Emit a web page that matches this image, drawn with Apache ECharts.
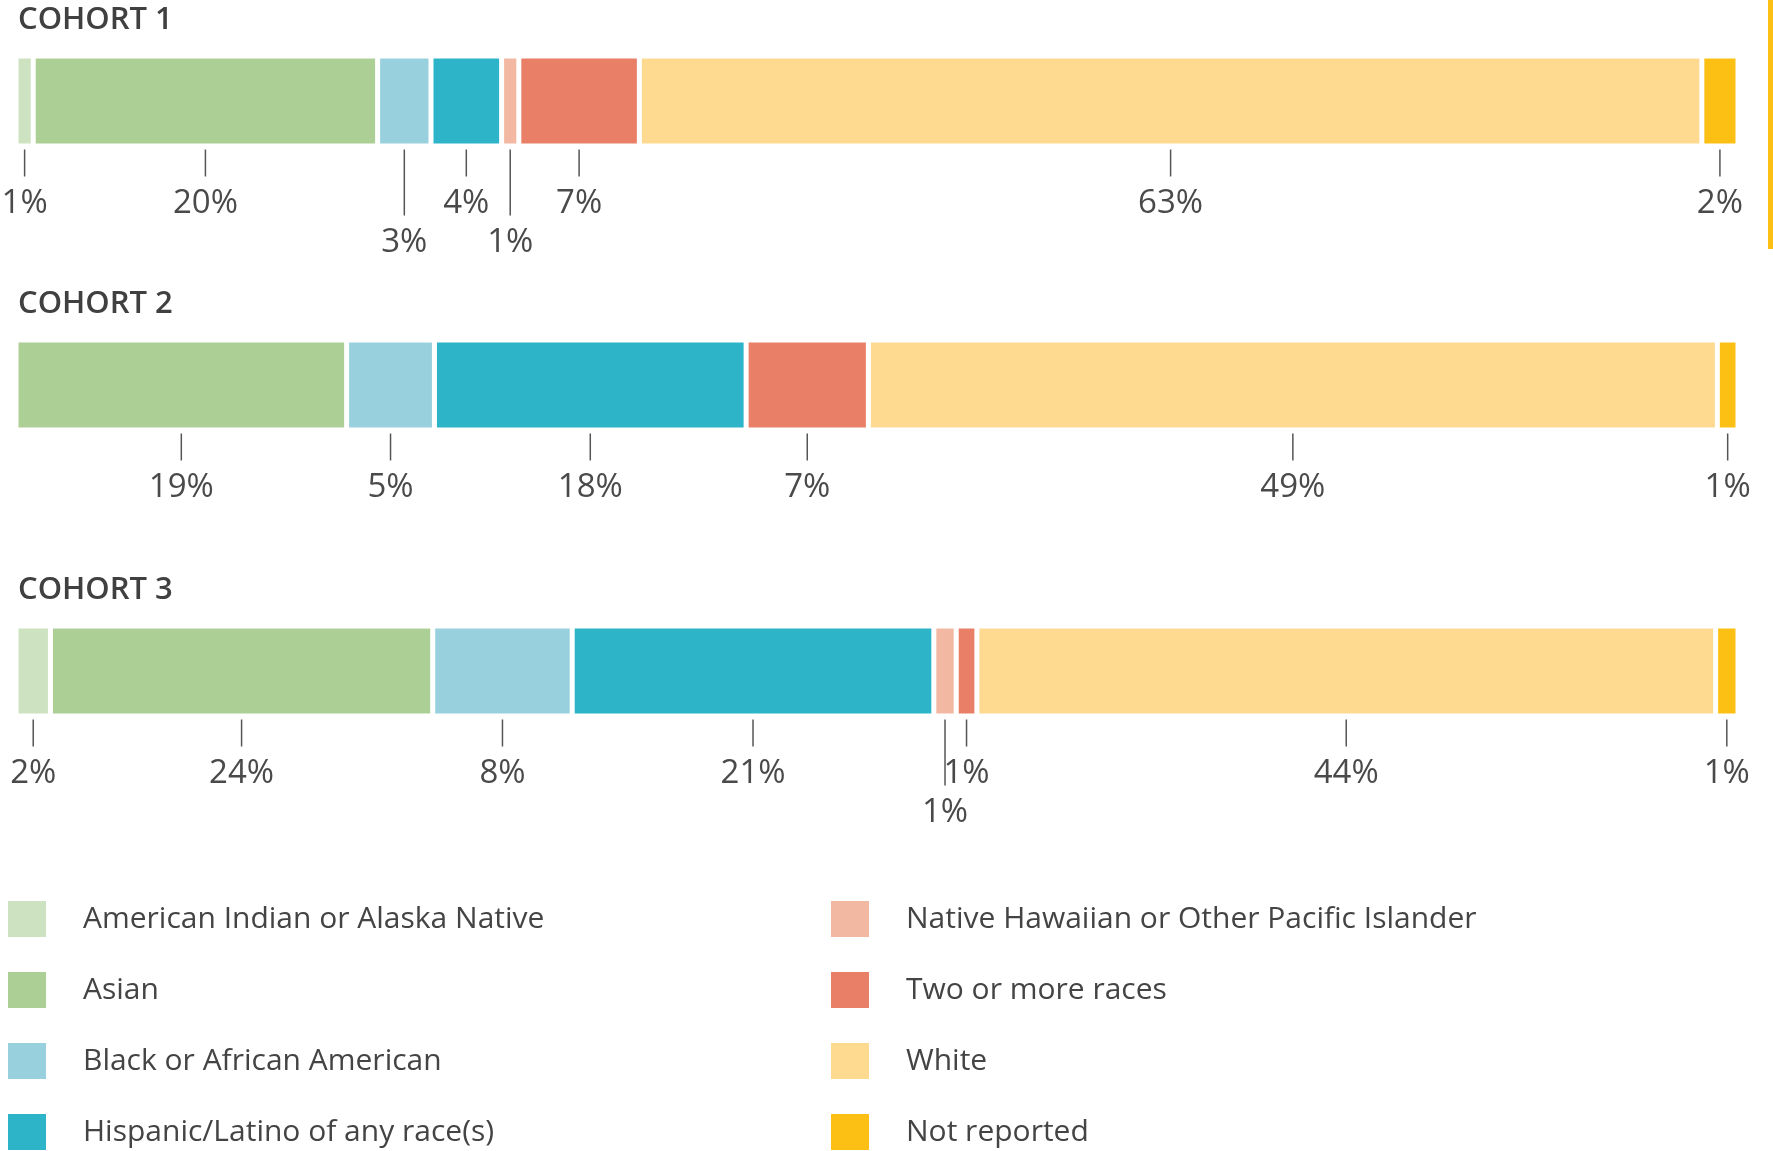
<!DOCTYPE html>
<html>
<head>
<meta charset="utf-8">
<title>Cohorts by race / ethnicity</title>
<script src="https://cdn.jsdelivr.net/npm/echarts@6/dist/echarts.min.js"></script>
<style>
  html, body { margin: 0; padding: 0; background: #fff; }
  #chart { width: 1773px; height: 1151px; }
</style>
</head>
<body>
<div id="chart"></div>
<script>
// categories (legend order = stacking order)
const races = [
  'American Indian or Alaska Native',
  'Asian',
  'Black or African American',
  'Hispanic/Latino of any race(s)',
  'Native Hawaiian or Other Pacific Islander',
  'Two or more races',
  'White',
  'Not reported'
];
const cohorts = ['COHORT 1', 'COHORT 2', 'COHORT 3'];

// share of the bar length each segment takes
const cohort1Share = [1.0, 20.0, 3.1, 4.1, 1.0, 7.0, 61.7, 2.1];
const cohort2Share = [null, 19.2, 5.1, 18.1, null, 7.1, 49.3, 1.2];
const cohort3Share = [2.0, 22.2, 8.1, 21.0, 1.3, 1.2, 42.9, 1.3];

// percentages as printed under the bars
const cohort1Pct = [1, 20, 3, 4, 1, 7, 63, 2];
const cohort2Pct = [null, 19, 5, 18, null, 7, 49, 1];
const cohort3Pct = [2, 24, 8, 21, 1, 1, 44, 1];

const colors = ['#cde2c0', '#accf96', '#98d1dd', '#2db4c9', '#f3b8a2', '#e87f66', '#fed990', '#fcbf14'];

// ---- layout ----
const FONT = "'Open Sans', 'Noto Sans', sans-serif";
const shares = [cohort1Share, cohort2Share, cohort3Share];
const pcts = [cohort1Pct, cohort2Pct, cohort3Pct];
const gridTops = [56, 340, 626];
const lowered = [[2, 4], [], [4]];   // labels pushed to the second row
const BAR = 90, GAP = 5;

let chart = echarts.init(document.getElementById('chart'));

let grids = [], xAxes = [], yAxes = [], series = [], titles = [];
cohorts.forEach(function (name, g) {
  grids.push({ left: 16, right: 35, top: gridTops[g], height: BAR });
  xAxes.push({ type: 'value', gridIndex: g, min: 0, max: 100, show: false });
  yAxes.push({ type: 'category', gridIndex: g, data: [name], show: false });
  titles.push({
    text: name, left: 18, top: gridTops[g] - 51, padding: 0,
    textStyle: { fontFamily: FONT, fontSize: 31, fontWeight: 600, color: '#404040' }
  });

  races.forEach(function (race, i) {
    series.push({
      name: race,
      type: 'bar',
      stack: 'c' + g,
      xAxisIndex: g,
      yAxisIndex: g,
      barWidth: BAR,
      data: [shares[g][i]],
      // border is kept inside the rect, so half the gap on each side
      itemStyle: { color: colors[i], borderColor: '#fff', borderWidth: GAP / 2 },
      emphasis: { disabled: true },
      silent: true
    });
  });

  // tick + label under the middle of each segment
  let ticks = [], acc = 0;
  shares[g].forEach(function (v, i) {
    if (v == null) return;
    ticks.push({ value: [acc, acc + v, lowered[g].indexOf(i) >= 0 ? 1 : 0], pct: pcts[g][i] });
    acc += v;
  });
  series.push({
    name: 'ticks' + g,
    type: 'custom',
    xAxisIndex: g,
    yAxisIndex: g,
    silent: true,
    data: ticks,
    renderItem: function (params, api) {
      const mid = (api.value(0) + api.value(1)) / 2;
      const p = api.coord([mid, 0]);
      const band = api.size([0, 1])[1];
      const y0 = p[1] + band / 2 - GAP / 2 + 6;
      const len = api.value(2) ? 66 : 27;
      return {
        type: 'group',
        children: [
          { type: 'line', shape: { x1: p[0], y1: y0, x2: p[0], y2: y0 + len },
            style: { stroke: '#555', lineWidth: 1.5 } },
          { type: 'text',
            style: { x: p[0], y: y0 + len + 11, text: ticks[params.dataIndex].pct + '%',
                     align: 'center', verticalAlign: 'top',
                     font: '33px ' + FONT, fill: '#4a4a4a' } }
        ]
      };
    }
  });
});

function legendCol(names, left) {
  return {
    data: names, orient: 'vertical', left: left, top: 901, padding: 0,
    icon: 'rect', itemWidth: 38, itemHeight: 36, itemGap: 35,
    selectedMode: false,
    itemStyle: { borderWidth: 0 },
    textStyle: { fontFamily: FONT, fontSize: 30, color: '#444', padding: [0, 0, 0, 32] }
  };
}

chart.setOption({
  animation: false,
  backgroundColor: '#fff',
  title: titles,
  grid: grids,
  xAxis: xAxes,
  yAxis: yAxes,
  legend: [legendCol(races.slice(0, 4), 8), legendCol(races.slice(4), 831)],
  graphic: [{ type: 'rect', left: 1768, top: 0, shape: { width: 5, height: 249 }, style: { fill: '#fcbf14' } }],
  series: series
});
</script>
</body>
</html>
